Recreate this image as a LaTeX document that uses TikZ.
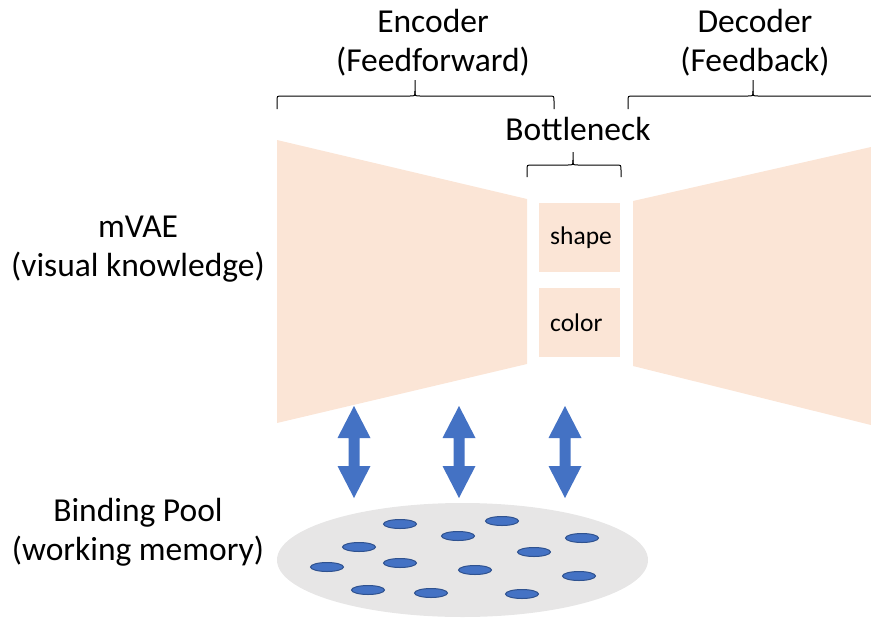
\documentclass[tikz,border=0pt]{standalone}
\usepackage{fontspec}
\setmainfont{Carlito}
\usetikzlibrary{shapes.geometric}
\definecolor{peach}{HTML}{FBE5D6}
\definecolor{arrowblue}{HTML}{4472C4}
\definecolor{tokenedge}{HTML}{2F528F}
\definecolor{poolgray}{HTML}{E7E6E6}

% curly bracket opening downwards: left x, tip x, right x, foot y, bar y, tip y
\newcommand{\curlybrack}[6]{%
  \draw[bracket] (#1,#4) -- (#1,#5+5) .. controls (#1,#5) .. (#1+5,#5)
    -- (#2-5,#5) .. controls (#2,#5) .. (#2,#5-5) -- (#2,#6);
  \draw[bracket] (#2,#5-5) .. controls (#2,#5) .. (#2+5,#5)
    -- (#3-5,#5) .. controls (#3,#5) .. (#3,#5+5) -- (#3,#4);
}

\begin{document}
\begin{tikzpicture}[x=1pt,y=-1pt,
  label/.style={font=\fontsize{33.5}{39}\selectfont, align=center, inner sep=0pt},
  slot/.style={fill=peach, minimum width=81pt, minimum height=69pt,
    text width=59pt, inner xsep=11pt, inner ysep=0pt, align=left,
    anchor=north west, font=\fontsize{25.5}{30}\selectfont},
  bracket/.style={draw=black, line width=1pt},
  token/.style={ellipse, fill=arrowblue, draw=tokenedge, line width=1pt,
    minimum width=33pt, minimum height=9pt, inner sep=0pt},
  bidir/.style={fill=arrowblue}
]
\useasboundingbox (0,0) rectangle (871,619);

% encoder and decoder funnels
\fill[peach] (277,140) -- (527,199) -- (527,364) -- (277,423) -- cycle;
\fill[peach] (633,201) -- (871,147) -- (871,425) -- (633,366) -- cycle;

% latent slots of the bottleneck
\node[slot] (shape) at (539,203) {shape};
\node[slot] (color) at (539,288) {color};

% titles
\node[label] (enc) at (433,43) {Encoder\\(Feedforward)};
\node[label] (dec) at (755,43) {Decoder\\(Feedback)};
\node[label] (bn) at (578,129) {Bottleneck};
\node[label] (mvae) at (138,249) {mVAE\\(visual knowledge)};
\node[label] (bp) at (138,532) {Binding Pool\\(working memory)};

% brackets
\begin{scope}
  \clip (0,0) rectangle (871,619);
  \curlybrack{277}{415}{554}{109}{96}{80}
  \curlybrack{628}{753}{878}{109}{96}{80}
  \curlybrack{527}{573}{621}{177}{165}{152}
\end{scope}

% two-way block arrows between the model and the pool
\foreach \cx in {354,459,565}{
  \fill[bidir] (\cx,406) -- (\cx+16.5,438) -- (\cx+5.5,438) -- (\cx+5.5,466)
    -- (\cx+16.5,466) -- (\cx,498) -- (\cx-16.5,466) -- (\cx-5.5,466)
    -- (\cx-5.5,438) -- (\cx-16.5,438) -- cycle;
}

% binding pool with its tokens
\node[ellipse, fill=poolgray, minimum width=371pt, minimum height=114pt,
  inner sep=0pt] (pool) at (462.5,560) {};
\foreach \tx/\ty [count=\i] in {400/524, 502/521, 458/536, 582/538, 359/547,
    534/552, 327/567, 400/563, 475/570, 579/576, 368/590, 431/593, 522/594}{
  \node[token] (tok\i) at (\tx,\ty) {};
}
\end{tikzpicture}
\end{document}
